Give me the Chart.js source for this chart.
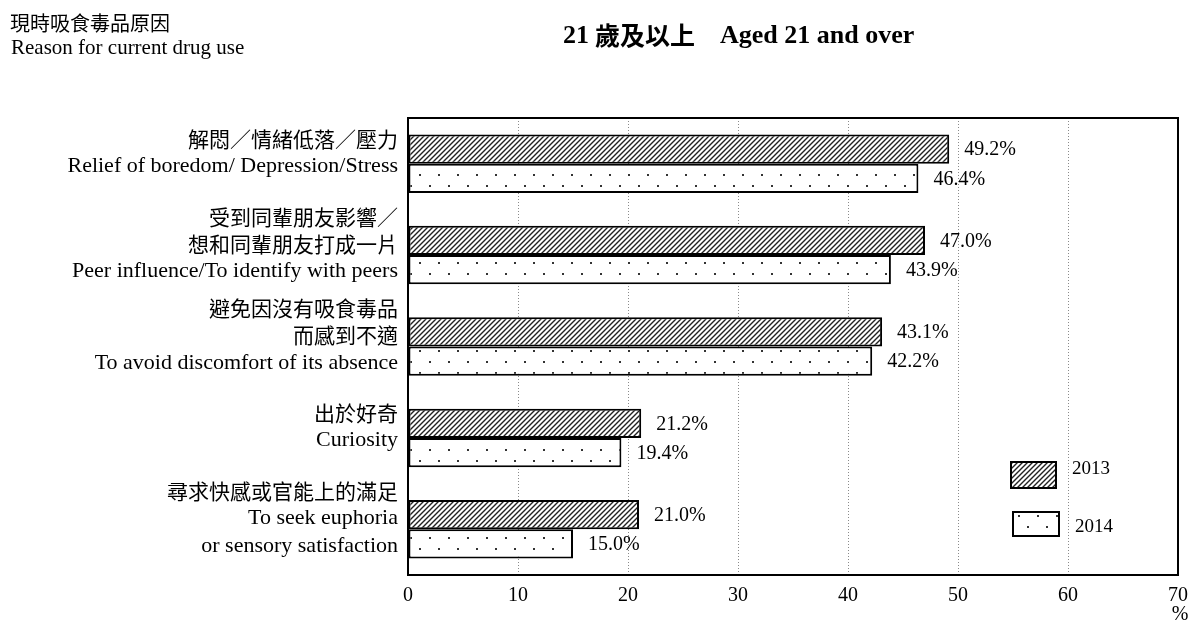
<!DOCTYPE html>
<html>
<head>
<meta charset="utf-8">
<script src="https://cdn.jsdelivr.net/npm/chart.js@4"></script>
<style>
  html, body { margin: 0; padding: 0; background: #fff; }
  #wrap { width: 1189px; height: 623px; }
</style>
</head>
<body>
<div id="wrap"><canvas id="chart"></canvas></div>
<script>
const categories = [
  ['解悶／情緒低落／壓力', 'Relief of boredom/ Depression/Stress'],
  ['受到同輩朋友影響／', '想和同輩朋友打成一片', 'Peer influence/To identify with peers'],
  ['避免因沒有吸食毒品', '而感到不適', 'To avoid discomfort of its absence'],
  ['出於好奇', 'Curiosity'],
  ['尋求快感或官能上的滿足', 'To seek euphoria', 'or sensory satisfaction']
];
const seriesNames = ['2013', '2014'];
const values2013 = [49.2, 47.0, 43.1, 21.2, 21.0];
const values2014 = [46.4, 43.9, 42.2, 19.4, 15.0];
const xTicks = [0, 10, 20, 30, 40, 50, 60, 70];

const SERIF = "'Liberation Serif', 'Times New Roman', serif";
const CJK = "'Noto Sans CJK TC', 'Noto Sans CJK SC', sans-serif";
const isCJK = (s) => /[\u3000-\u9fff\uff00-\uffef]/.test(s);

function hatchPattern() {
  const c = document.createElement('canvas');
  c.width = 5; c.height = 5;
  const g = c.getContext('2d');
  g.fillStyle = '#fff';
  g.fillRect(0, 0, 5, 5);
  g.strokeStyle = '#222';
  g.lineWidth = 1.4;
  g.beginPath();
  g.moveTo(-1, 6); g.lineTo(6, -1);
  g.moveTo(-1, 1); g.lineTo(1, -1);
  g.moveTo(4, 6); g.lineTo(6, 4);
  g.stroke();
  return g.createPattern(c, 'repeat');
}

function dotPattern() {
  const c = document.createElement('canvas');
  c.width = 19; c.height = 22;
  const g = c.getContext('2d');
  g.fillStyle = '#fff';
  g.fillRect(0, 0, 19, 22);
  g.fillStyle = '#333';
  g.fillRect(1, 20, 2, 2);
  g.fillRect(11, 9, 2, 2);
  return g.createPattern(c, 'repeat');
}

const fills = [hatchPattern(), dotPattern()];

const decorations = {
  id: 'decorations',
  beforeDatasetsDraw(chart) {
    const { ctx } = chart;
    ctx.save();
    ctx.fillStyle = '#000';
    ctx.textBaseline = 'middle';
    ctx.textAlign = 'left';
    // header
    ctx.font = '20px ' + CJK;
    ctx.fillText('現時吸食毒品原因', 10, 23);
    ctx.font = '21px ' + SERIF;
    ctx.fillText('Reason for current drug use', 11, 48);
    // title
    ctx.font = 'bold 26px ' + SERIF;
    ctx.fillText('21', 563, 36);
    ctx.font = 'bold 25px ' + CJK;
    ctx.fillText('歲及以上', 595, 35);
    ctx.font = 'bold 26px ' + SERIF;
    ctx.fillText('Aged 21 and over', 720, 36);

    // category labels, via the y scale
    const y = chart.scales.y;
    const right = chart.chartArea.left - 10;
    ctx.textAlign = 'right';
    categories.forEach((lines, i) => {
      const cy = y.getPixelForValue(i) - 11;
      const step = 27.5;
      lines.forEach((t, k) => {
        const ly = cy + (k - (lines.length - 1) / 2) * step;
        ctx.font = isCJK(t) ? '21px ' + CJK : '22px ' + SERIF;
        ctx.fillText(t, right, ly);
      });
    });
    ctx.restore();
  },
  afterDatasetsDraw(chart) {
    const { ctx, chartArea: a } = chart;
    ctx.save();
    // frame
    ctx.strokeStyle = '#000';
    ctx.lineWidth = 2;
    ctx.strokeRect(a.left, a.top, a.right - a.left, a.bottom - a.top);

    // value labels
    ctx.fillStyle = '#000';
    ctx.font = '20px ' + SERIF;
    ctx.textAlign = 'left';
    ctx.textBaseline = 'middle';
    chart.data.datasets.forEach((ds, i) => {
      chart.getDatasetMeta(i).data.forEach((bar, j) => {
        ctx.fillText(ds.data[j].toFixed(1) + '%', bar.x + 15, bar.y + 1);
      });
    });

    // percent unit
    ctx.textAlign = 'center';
    ctx.fillText('%', 1180, 615);

    // legend
    const items = [
      { box: [1011, 462, 45, 26], ty: 469 },
      { box: [1013, 512, 46, 24], ty: 527 }
    ];
    ctx.font = '19px ' + SERIF;
    items.forEach((it, i) => {
      const [x, yy, w, h] = it.box;
      ctx.fillStyle = fills[i];
      ctx.fillRect(x, yy, w, h);
      ctx.lineWidth = 2;
      ctx.strokeStyle = '#000';
      ctx.strokeRect(x, yy, w, h);
      ctx.fillStyle = '#000';
      ctx.textAlign = 'left';
      ctx.fillText(seriesNames[i], 1072 + i * 3, it.ty);
    });
    ctx.restore();
  }
};

new Chart(document.getElementById('chart'), {
  type: 'bar',
  data: {
    labels: categories,
    datasets: [
      { label: seriesNames[0], data: values2013, backgroundColor: fills[0] },
      { label: seriesNames[1], data: values2014, backgroundColor: fills[1] }
    ]
  },
  options: {
    indexAxis: 'y',
    responsive: true,
    maintainAspectRatio: false,
    animation: false,
    layout: { padding: { top: 118, right: 11, left: 0, bottom: 0 } },
    datasets: {
      bar: {
        borderColor: '#000',
        borderWidth: 2,
        borderSkipped: false,
        categoryPercentage: 0.64,
        barPercentage: 1.0
      }
    },
    scales: {
      x: {
        min: 0,
        max: 70,
        afterBuildTicks: (s) => { s.ticks = xTicks.map(v => ({ value: v })); },
        afterFit: (s) => { s.height = 48; s.paddingRight = 0; s.paddingLeft = 0; },
        grid: { color: '#8a8a8a', lineWidth: 1, drawTicks: false },
        border: { display: false, dash: [1, 2] },
        ticks: {
          color: '#000',
          padding: 9,
          font: { family: SERIF, size: 20 }
        }
      },
      y: {
        afterFit: (s) => { s.width = 408; },
        grid: { display: false, drawTicks: false },
        border: { display: false },
        ticks: { display: false }
      }
    },
    plugins: {
      legend: { display: false },
      tooltip: { enabled: false }
    }
  },
  plugins: [decorations]
});
</script>
</body>
</html>
